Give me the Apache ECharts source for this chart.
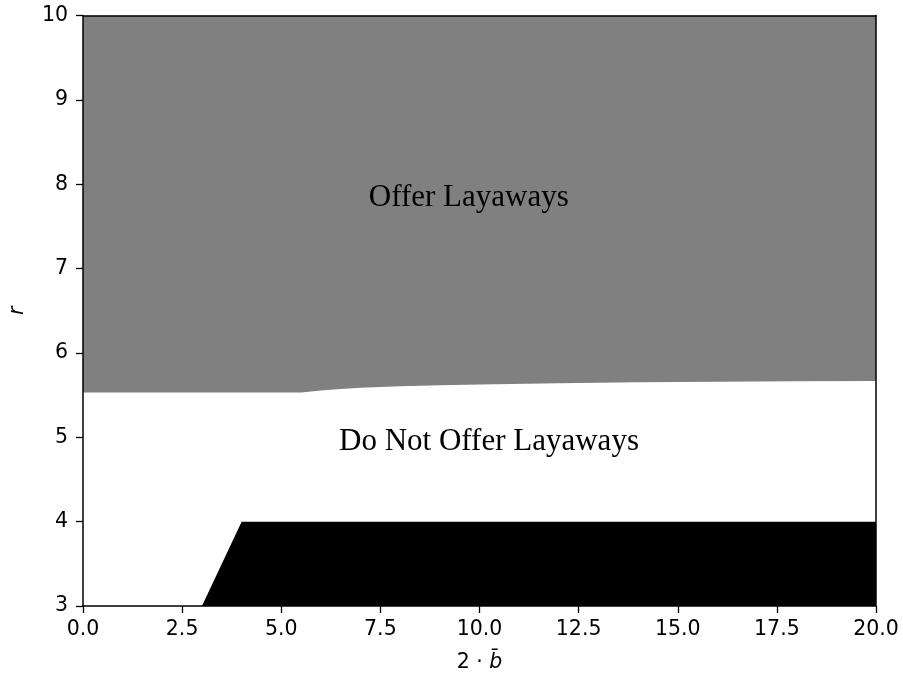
<!DOCTYPE html>
<html>
<head>
<meta charset="utf-8">
<script src="https://cdn.jsdelivr.net/npm/echarts@6/dist/echarts.min.js"></script>
<style>html,body{margin:0;padding:0;background:#fff}#c{width:903px;height:677px}</style>
</head>
<body>
<div id="c"></div>
<script>
// Boundary between "Offer" (above) and "Do Not Offer" (below)
var boundaryX = [0, 5.5, 6.0, 6.5, 7.0, 8.0, 9.0, 10, 12, 14, 16, 18, 20];
var boundaryR = [5.53, 5.53, 5.555, 5.572, 5.587, 5.605, 5.617, 5.626, 5.641, 5.652, 5.659, 5.664, 5.667];
// Lower black region edge
var blackX = [0, 3, 4, 20];
var blackR = [3, 3, 4, 4];
var xTicks = [0, 2.5, 5, 7.5, 10, 12.5, 15, 17.5, 20];
var yTicks = [3, 4, 5, 6, 7, 8, 9, 10];
var labels = [
  {text: 'Offer Layaways', x: 9.73, r: 7.66},
  {text: 'Do Not Offer Layaways', x: 10.24, r: 4.765}
];

function pairs(xs, ys) { return xs.map(function (x, i) { return [x, ys[i]]; }); }

var chart = echarts.init(document.getElementById('c'), null, {renderer: 'canvas'});
var tickFont = {fontFamily: 'DejaVu Sans', fontSize: 20.5, color: '#000'};
var option = {
  animation: false,
  backgroundColor: '#fff',
  grid: {left: 83, right: 27, top: 15.5, bottom: 71, containLabel: false, outerBoundsMode: 'none'},
  xAxis: [{
    type: 'value', min: xTicks[0], max: xTicks[xTicks.length - 1], interval: 2.5, z: 10,
    axisLine: {show: true, onZero: false, lineStyle: {color: '#000', width: 1.5}},
    axisTick: {show: true, length: 7, lineStyle: {color: '#000', width: 1.3}},
    axisLabel: Object.assign({margin: 13, formatter: function (v) { return v.toFixed(1); }}, tickFont),
    splitLine: {show: false},
    name: '{n|2 · }{b|b\u0304}', nameLocation: 'middle', nameGap: 46,
    nameTextStyle: {
      rich: {
        n: {fontFamily: 'DejaVu Sans', fontSize: 20.5, color: '#000'},
        b: {fontFamily: 'DejaVu Sans', fontStyle: 'italic', fontSize: 20.5, color: '#000'}
      }
    }
  }, {
    type: 'value', position: 'top', min: 0, max: 20, z: 10,
    axisLine: {show: true, onZero: false, lineStyle: {color: '#000', width: 1.5}},
    axisTick: {show: false}, axisLabel: {show: false}, splitLine: {show: false}
  }],
  yAxis: [{
    type: 'value', min: yTicks[0], max: yTicks[yTicks.length - 1], interval: 1, z: 10,
    axisLine: {show: true, onZero: false, lineStyle: {color: '#000', width: 1.5}},
    axisTick: {show: true, length: 7, lineStyle: {color: '#000', width: 1.3}},
    axisLabel: Object.assign({margin: 15}, tickFont),
    splitLine: {show: false},
    name: 'r', nameLocation: 'middle', nameGap: 55, nameRotate: 90,
    nameTextStyle: {fontFamily: 'DejaVu Sans', fontStyle: 'italic', fontSize: 20.5, color: '#000'}
  }, {
    type: 'value', position: 'right', min: 3, max: 10, z: 10,
    axisLine: {show: true, onZero: false, lineStyle: {color: '#000', width: 1.5}},
    axisTick: {show: false}, axisLabel: {show: false}, splitLine: {show: false}
  }],
  series: [{
    type: 'line', data: pairs(boundaryX, boundaryR), showSymbol: false, symbol: 'none',
    lineStyle: {width: 0, opacity: 0},
    areaStyle: {color: '#808080', opacity: 1, origin: 'end'}
  }, {
    type: 'line', data: pairs(blackX, blackR), showSymbol: false, symbol: 'none',
    lineStyle: {width: 0, opacity: 0},
    areaStyle: {color: '#000000', opacity: 1, origin: 'start'}
  }]
};
chart.setOption(option);

var g = labels.map(function (l) {
  var p = chart.convertToPixel({xAxisIndex: 0, yAxisIndex: 0}, [l.x, l.r]);
  return {
    type: 'text', x: p[0], y: p[1], z: 20,
    style: {text: l.text, fill: '#000', font: '31px "Liberation Serif"', textAlign: 'center', textVerticalAlign: 'bottom'}
  };
});
chart.setOption({graphic: g});
</script>
</body>
</html>
